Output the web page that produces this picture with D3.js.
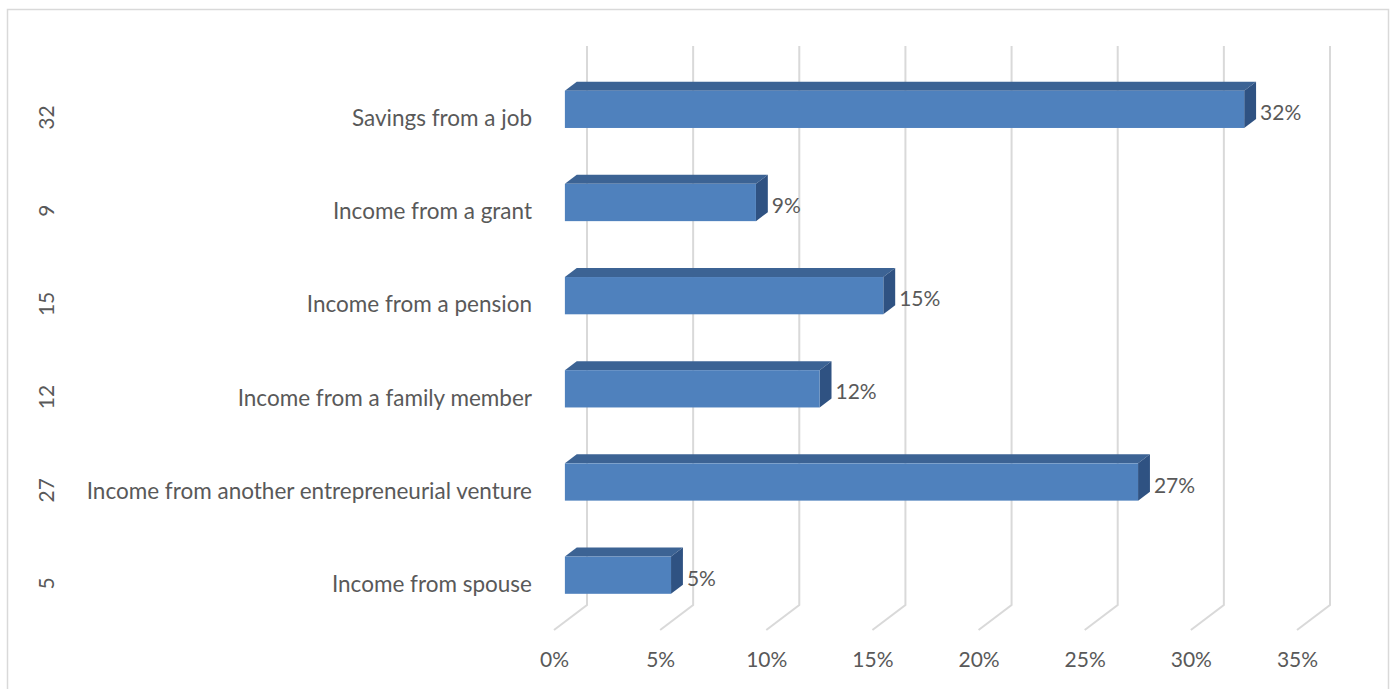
<!DOCTYPE html>
<html>
<head>
<meta charset="utf-8">
<script src="https://cdn.jsdelivr.net/npm/d3@7"></script>
<style>
  html, body { margin: 0; padding: 0; background: #fff; }
  svg { display: block; }
  text { font-family: Lato, "Open Sans", sans-serif; fill: #595959; }
</style>
</head>
<body>
<svg id="chart" width="1396" height="689"></svg>
<script>
// Funding sources (share of respondents, %)
const categories = [
  "Savings from a job",
  "Income from a grant",
  "Income from a pension",
  "Income from a family member",
  "Income from another entrepreneurial venture",
  "Income from spouse"
];
const values = [32, 9, 15, 12, 27, 5];
const counts = [32, 9, 15, 12, 27, 5];
const tickValues = [0, 5, 10, 15, 20, 25, 30, 35];

const svg = d3.select("#chart");
const W = 1396, H = 689;

// outer frame
svg.append("rect")
  .attr("x", 7.5).attr("y", 9.5)
  .attr("width", 1381).attr("height", H + 10)
  .attr("fill", "none").attr("stroke", "#d9d9d9").attr("stroke-width", 1.5);

// front plane scales (floor front edge)
const x = d3.scaleLinear().domain([0, 35]).range([554, 1297]);
const y = d3.scaleBand().domain(categories).range([71, 630])
  .paddingInner(0.6).paddingOuter(0.3);

// 3D depth vector from front to back wall
const depth = { dx: 33, dy: -25 };
const f1 = 0.33, f2 = 0.69;           // bar front / back depth fractions
const floorY = y.range()[1];
const topY = y.range()[0];

// gridlines: vertical on back wall + diagonal on floor
const grid = svg.append("g").attr("stroke", "#d9d9d9").attr("stroke-width", 2).attr("fill", "none");
tickValues.forEach(t => {
  const xf = x(t), xb = x(t) + depth.dx;
  grid.append("path")
    .attr("d", `M${xb},${topY + depth.dy}L${xb},${floorY + depth.dy}L${xf},${floorY}`);
});

// bars
const colors = { front: "#4f81bd", top: "#3c6394", side: "#2f5282" };
const bars = svg.append("g");
categories.forEach((c, i) => {
  const v = values[i];
  const ox = depth.dx * f1, oy = depth.dy * f1;
  const bx = depth.dx * (f2 - f1), by = depth.dy * (f2 - f1);
  const x0 = x(0) + ox, x1 = x(v) + ox;
  const y0 = y(c) + oy, y1 = y(c) + y.bandwidth() + oy;
  const g = bars.append("g");
  g.append("path").attr("fill", colors.top)
    .attr("d", `M${x0},${y0}L${x0 + bx},${y0 + by}L${x1 + bx},${y0 + by}L${x1},${y0}Z`);
  g.append("path").attr("fill", colors.side)
    .attr("d", `M${x1},${y0}L${x1 + bx},${y0 + by}L${x1 + bx},${y1 + by}L${x1},${y1}Z`);
  g.append("rect").attr("fill", colors.front)
    .attr("x", x0).attr("y", y0).attr("width", x1 - x0).attr("height", y1 - y0);

  // value label
  svg.append("text")
    .attr("x", x1 + bx + 4).attr("y", (y0 + y1) / 2 + 2)
    .attr("dominant-baseline", "central")
    .style("font-size", "21px")
    .text(v + "%");

  // category label
  svg.append("text")
    .attr("x", 532).attr("y", y(c) + y.bandwidth() / 2)
    .attr("text-anchor", "end").attr("dominant-baseline", "central")
    .style("font-size", "22.5px")
    .text(c);

  // count label (rotated)
  svg.append("text")
    .attr("transform", `translate(45,${y(c) + y.bandwidth() / 2}) rotate(-90)`)
    .attr("text-anchor", "middle").attr("dominant-baseline", "central")
    .style("font-size", "21px")
    .text(counts[i]);
});

// x axis labels along floor front edge
const axis = d3.axisBottom(x).tickValues(tickValues).tickFormat(d => d + "%").tickSize(0).tickPadding(0);
const ax = svg.append("g").attr("transform", `translate(0,${floorY + 22})`).call(axis);
ax.select(".domain").remove();
ax.selectAll("text").style("font-size", "21px").style("font-family", "Lato, 'Open Sans', sans-serif").attr("fill", "#595959");
</script>
</body>
</html>
